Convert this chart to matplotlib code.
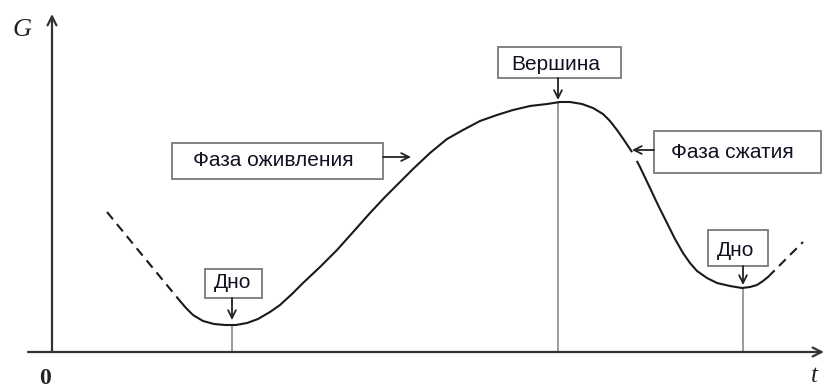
import matplotlib
matplotlib.use("Agg")
import matplotlib.pyplot as plt
from matplotlib.patches import Rectangle
from matplotlib import font_manager as fm

# ---------------- data (t, G) ----------------
dash_left_t = [55, 91, 128]
dash_left_G = [140, 96, 51]

curve_t = [128, 134, 141, 151, 162, 173, 184, 195, 206, 218, 228, 240, 251, 268, 285,
           302, 318, 333, 348, 361, 378, 395, 411, 428, 445, 461, 478, 495, 508, 518,
           530, 541, 551, 558, 565, 572, 580, 588, 598, 606, 615, 623, 631, 638, 645,
           655, 665, 678, 690, 698, 705, 711, 716]
curve_G = [51, 44, 37, 31, 28, 27, 27, 29, 33, 40, 47, 58, 69, 85, 102,
           121, 139, 155, 170, 183, 199, 213, 222, 231, 237, 242, 246, 248, 250, 250,
           248, 244, 238, 231, 222, 212, 200, 185, 164, 147, 129, 113, 99, 89, 81,
           74, 69, 66, 64, 65, 67, 71, 75]

dash_right_t = [716, 733, 751]
dash_right_G = [75, 92, 110]

turn_t = [180, 506, 691]
turn_G = [27, 250, 64]

labels = ["Дно", "Фаза оживления", "Вершина", "Фаза сжатия", "Дно"]

# ---------------- fonts ----------------
def has(name):
    try:
        fm.findfont(fm.FontProperties(family=name), fallback_to_default=False)
        return True
    except Exception:
        return False

SANS = 'Liberation Sans Narrow' if has('Liberation Sans Narrow') else 'Liberation Sans'
SERIF = 'Liberation Serif' if has('Liberation Serif') else 'DejaVu Serif'

fig = plt.figure(figsize=(8.25, 3.88), dpi=100)
ax = fig.add_axes([0, 0, 1, 1])
ax.set_xlim(-52, 773)
ax.set_ylim(-36, 352)
ax.axis('off')

# axes with arrows
ax.annotate('', xy=(772, 0), xytext=(-24, 0),
            arrowprops=dict(arrowstyle='->', lw=1.6, color='#333333',
                            shrinkA=0, shrinkB=0, mutation_scale=16))
ax.annotate('', xy=(0, 338), xytext=(0, 0),
            arrowprops=dict(arrowstyle='->', lw=1.6, color='#333333',
                            shrinkA=0, shrinkB=0, mutation_scale=16))

ax.text(-30, 322, 'G', family=SERIF, style='italic', fontsize=19,
        ha='center', va='center', color='#222222')
ax.text(-7, -26, '0', family=SERIF, weight='bold', fontsize=17,
        ha='center', va='center', color='#222222')
ax.text(759, -24, 't', family=SERIF, style='italic', fontsize=18,
        ha='left', va='center', color='#222222')

# guide lines
for t, g in zip(turn_t, turn_G):
    ax.plot([t, t], [0, g], color='#8a8a8a', lw=1.2, zorder=1)

# curve
ax.plot(curve_t, curve_G, color='#1a1a1a', lw=1.5, zorder=3,
        solid_capstyle='round', solid_joinstyle='round')
ax.plot(dash_left_t, dash_left_G, color='#1a1a1a', lw=1.5, dashes=(4.5, 3), zorder=3)
ax.plot(dash_right_t, dash_right_G, color='#1a1a1a', lw=1.5, dashes=(4.5, 3), zorder=3)

# small gap in the curve near the "Фаза сжатия" arrow
ax.plot([581, 584], [198, 193], color='white', lw=3, zorder=4)

def box(x0, x1, y0, y1, text, tx, ty):
    ax.add_patch(Rectangle((x0, y0), x1 - x0, y1 - y0, facecolor='white',
                           edgecolor='#7a7a7a', lw=1.3, zorder=5))
    ax.text(tx, ty, text, family=SANS, fontsize=15, ha='center', va='center',
            color='#111122', zorder=6)

def arrow(x0, y0, x1, y1):
    ax.annotate('', xy=(x1, y1), xytext=(x0, y0),
                arrowprops=dict(arrowstyle='->', lw=1.3, color='#222222',
                                shrinkA=0, shrinkB=0, mutation_scale=14), zorder=6)

box(153, 210, 54, 83, labels[0], 181, 69)
arrow(180, 54, 180, 32)

box(120, 331, 173, 209, labels[1], 221, 192)
arrow(331, 195, 359, 195)

box(446, 569, 274, 305, labels[2], 504, 288)
arrow(506, 274, 506, 252)

box(602, 769, 179, 221, labels[3], 680, 199)
arrow(602, 202, 580, 202)

box(656, 716, 86, 122, labels[4], 684, 102)
arrow(691, 86, 691, 67)

fig.savefig('out.png', dpi=100)
